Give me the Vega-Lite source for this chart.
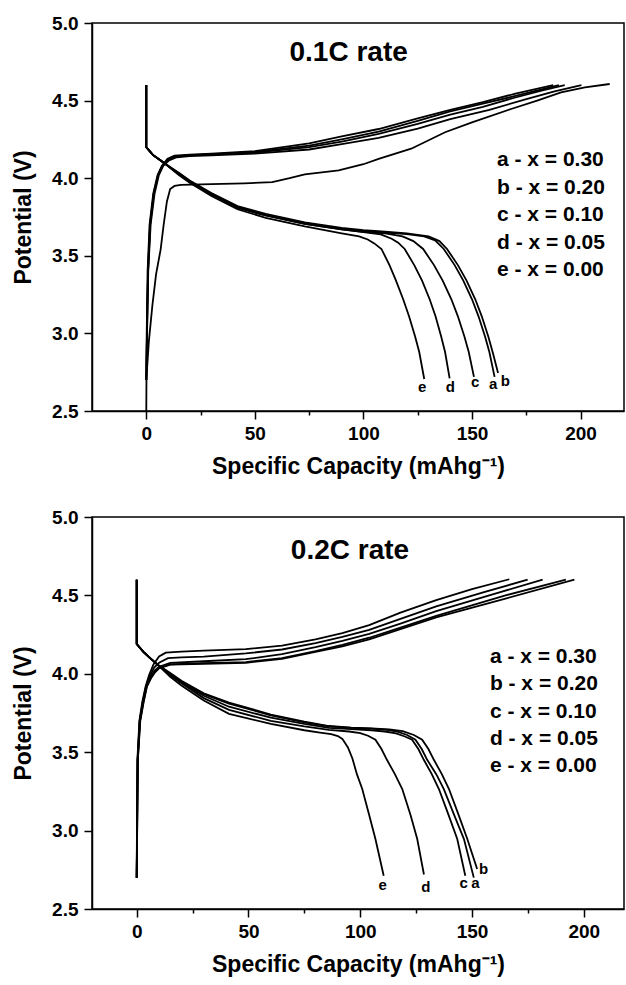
{
  "$schema": "https://vega.github.io/schema/vega-lite/v6.json",
  "padding": {"left": 11, "top": 13, "right": 0, "bottom": 0},
  "background": "white",
  "spacing": 106,
  "bounds": "flush",
  "config": {
    "font": "Liberation Sans",
    "view": {"stroke": "black", "strokeWidth": 1.5},
    "axis": {
      "grid": false,
      "domainColor": "black",
      "domainWidth": 1.5,
      "tickColor": "black",
      "tickWidth": 1.5,
      "labelColor": "black",
      "labelFont": "Liberation Sans",
      "labelFontWeight": "bold",
      "labelFontSize": 19,
      "titleColor": "black",
      "titleFont": "Liberation Sans",
      "titleFontWeight": "bold",
      "titleFontSize": 23
    },
    "axisX": {"labelPadding": 5, "titlePadding": 12},
    "axisY": {"labelPadding": 6, "titlePadding": 16}
  },
  "datasets": {
    "p1": [
      {"id":"a-dis","cap":0,"v":4.6},{"id":"a-dis","cap":0,"v":4.2},{"id":"a-dis","cap":3,"v":4.15},{"id":"a-dis","cap":6,"v":4.12},{"id":"a-dis","cap":9,"v":4.09},{"id":"a-dis","cap":15,"v":4.03},{"id":"a-dis","cap":20,"v":3.98},{"id":"a-dis","cap":30,"v":3.9},{"id":"a-dis","cap":42,"v":3.815},{"id":"a-dis","cap":55,"v":3.765},{"id":"a-dis","cap":73,"v":3.71},{"id":"a-dis","cap":90,"v":3.675},{"id":"a-dis","cap":100,"v":3.66},{"id":"a-dis","cap":110,"v":3.65},{"id":"a-dis","cap":120,"v":3.64},{"id":"a-dis","cap":128,"v":3.625},{"id":"a-dis","cap":133,"v":3.6},{"id":"a-dis","cap":137,"v":3.544},{"id":"a-dis","cap":142,"v":3.44},{"id":"a-dis","cap":146,"v":3.34},{"id":"a-dis","cap":150,"v":3.22},{"id":"a-dis","cap":153,"v":3.11},{"id":"a-dis","cap":156,"v":2.98},{"id":"a-dis","cap":158,"v":2.88},{"id":"a-dis","cap":160.4,"v":2.72},
      {"id":"b-dis","cap":0,"v":4.6},{"id":"b-dis","cap":0,"v":4.2},{"id":"b-dis","cap":3,"v":4.15},{"id":"b-dis","cap":6,"v":4.12},{"id":"b-dis","cap":9,"v":4.09},{"id":"b-dis","cap":15,"v":4.035},{"id":"b-dis","cap":20,"v":3.985},{"id":"b-dis","cap":30,"v":3.905},{"id":"b-dis","cap":42,"v":3.82},{"id":"b-dis","cap":55,"v":3.77},{"id":"b-dis","cap":73,"v":3.715},{"id":"b-dis","cap":90,"v":3.68},{"id":"b-dis","cap":100,"v":3.665},{"id":"b-dis","cap":110,"v":3.655},{"id":"b-dis","cap":120,"v":3.645},{"id":"b-dis","cap":130,"v":3.625},{"id":"b-dis","cap":135,"v":3.595},{"id":"b-dis","cap":138.5,"v":3.544},{"id":"b-dis","cap":143.5,"v":3.44},{"id":"b-dis","cap":147.5,"v":3.34},{"id":"b-dis","cap":151.5,"v":3.22},{"id":"b-dis","cap":154.5,"v":3.11},{"id":"b-dis","cap":157.5,"v":2.98},{"id":"b-dis","cap":159.5,"v":2.88},{"id":"b-dis","cap":162,"v":2.745},
      {"id":"c-dis","cap":0,"v":4.6},{"id":"c-dis","cap":0,"v":4.2},{"id":"c-dis","cap":3,"v":4.15},{"id":"c-dis","cap":6,"v":4.12},{"id":"c-dis","cap":9,"v":4.09},{"id":"c-dis","cap":15,"v":4.025},{"id":"c-dis","cap":20,"v":3.975},{"id":"c-dis","cap":30,"v":3.895},{"id":"c-dis","cap":42,"v":3.81},{"id":"c-dis","cap":55,"v":3.76},{"id":"c-dis","cap":73,"v":3.705},{"id":"c-dis","cap":90,"v":3.67},{"id":"c-dis","cap":100,"v":3.655},{"id":"c-dis","cap":110,"v":3.645},{"id":"c-dis","cap":118,"v":3.625},{"id":"c-dis","cap":123,"v":3.595},{"id":"c-dis","cap":127.5,"v":3.544},{"id":"c-dis","cap":132.5,"v":3.44},{"id":"c-dis","cap":136.5,"v":3.34},{"id":"c-dis","cap":140.5,"v":3.22},{"id":"c-dis","cap":143.5,"v":3.11},{"id":"c-dis","cap":146.5,"v":2.98},{"id":"c-dis","cap":148.5,"v":2.88},{"id":"c-dis","cap":150.9,"v":2.72},
      {"id":"d-dis","cap":0,"v":4.6},{"id":"d-dis","cap":0,"v":4.2},{"id":"d-dis","cap":3,"v":4.15},{"id":"d-dis","cap":6,"v":4.12},{"id":"d-dis","cap":9,"v":4.09},{"id":"d-dis","cap":15,"v":4.025},{"id":"d-dis","cap":20,"v":3.975},{"id":"d-dis","cap":30,"v":3.895},{"id":"d-dis","cap":42,"v":3.81},{"id":"d-dis","cap":55,"v":3.76},{"id":"d-dis","cap":73,"v":3.705},{"id":"d-dis","cap":90,"v":3.67},{"id":"d-dis","cap":100,"v":3.652},{"id":"d-dis","cap":108,"v":3.638},{"id":"d-dis","cap":113,"v":3.61},{"id":"d-dis","cap":116,"v":3.585},{"id":"d-dis","cap":119,"v":3.544},{"id":"d-dis","cap":123.4,"v":3.44},{"id":"d-dis","cap":127,"v":3.34},{"id":"d-dis","cap":130.5,"v":3.22},{"id":"d-dis","cap":133.2,"v":3.11},{"id":"d-dis","cap":135.8,"v":2.98},{"id":"d-dis","cap":137.6,"v":2.88},{"id":"d-dis","cap":139.7,"v":2.71},
      {"id":"e-dis","cap":0,"v":4.6},{"id":"e-dis","cap":0,"v":4.2},{"id":"e-dis","cap":3,"v":4.15},{"id":"e-dis","cap":6,"v":4.12},{"id":"e-dis","cap":9,"v":4.09},{"id":"e-dis","cap":15,"v":4.02},{"id":"e-dis","cap":20,"v":3.97},{"id":"e-dis","cap":30,"v":3.885},{"id":"e-dis","cap":42,"v":3.8},{"id":"e-dis","cap":55,"v":3.745},{"id":"e-dis","cap":73,"v":3.69},{"id":"e-dis","cap":90,"v":3.645},{"id":"e-dis","cap":98,"v":3.625},{"id":"e-dis","cap":102,"v":3.605},{"id":"e-dis","cap":105,"v":3.58},{"id":"e-dis","cap":108.3,"v":3.544},{"id":"e-dis","cap":112,"v":3.44},{"id":"e-dis","cap":115,"v":3.34},{"id":"e-dis","cap":118.3,"v":3.22},{"id":"e-dis","cap":121,"v":3.11},{"id":"e-dis","cap":123.8,"v":2.98},{"id":"e-dis","cap":125.7,"v":2.88},{"id":"e-dis","cap":128,"v":2.706},
      {"id":"a-ch","cap":0,"v":2.7},{"id":"a-ch","cap":0.3,"v":3.0},{"id":"a-ch","cap":0.8,"v":3.4},{"id":"a-ch","cap":1.8,"v":3.7},{"id":"a-ch","cap":3.5,"v":3.9},{"id":"a-ch","cap":5.5,"v":4.02},{"id":"a-ch","cap":7.5,"v":4.08},{"id":"a-ch","cap":10,"v":4.12},{"id":"a-ch","cap":13,"v":4.14},{"id":"a-ch","cap":20,"v":4.148},{"id":"a-ch","cap":30,"v":4.155},{"id":"a-ch","cap":50,"v":4.165},{"id":"a-ch","cap":75,"v":4.2},{"id":"a-ch","cap":90,"v":4.235},{"id":"a-ch","cap":107,"v":4.285},{"id":"a-ch","cap":125,"v":4.35},{"id":"a-ch","cap":140,"v":4.41},{"id":"a-ch","cap":155,"v":4.46},{"id":"a-ch","cap":170,"v":4.52},{"id":"a-ch","cap":182,"v":4.565},{"id":"a-ch","cap":192.7,"v":4.6},
      {"id":"b-ch","cap":0,"v":2.7},{"id":"b-ch","cap":0.35,"v":3.0},{"id":"b-ch","cap":0.9,"v":3.4},{"id":"b-ch","cap":2,"v":3.7},{"id":"b-ch","cap":3.8,"v":3.9},{"id":"b-ch","cap":5.8,"v":4.02},{"id":"b-ch","cap":7.8,"v":4.08},{"id":"b-ch","cap":10.5,"v":4.115},{"id":"b-ch","cap":14,"v":4.135},{"id":"b-ch","cap":20,"v":4.142},{"id":"b-ch","cap":30,"v":4.148},{"id":"b-ch","cap":50,"v":4.158},{"id":"b-ch","cap":75,"v":4.185},{"id":"b-ch","cap":90,"v":4.22},{"id":"b-ch","cap":107,"v":4.26},{"id":"b-ch","cap":125,"v":4.32},{"id":"b-ch","cap":140,"v":4.38},{"id":"b-ch","cap":158,"v":4.44},{"id":"b-ch","cap":175,"v":4.51},{"id":"b-ch","cap":188,"v":4.56},{"id":"b-ch","cap":200.4,"v":4.6},
      {"id":"c-ch","cap":0,"v":2.5},{"id":"c-ch","cap":0.2,"v":3.0},{"id":"c-ch","cap":0.6,"v":3.4},{"id":"c-ch","cap":1.5,"v":3.7},{"id":"c-ch","cap":3.2,"v":3.9},{"id":"c-ch","cap":5.2,"v":4.02},{"id":"c-ch","cap":7.2,"v":4.08},{"id":"c-ch","cap":9.8,"v":4.125},{"id":"c-ch","cap":13,"v":4.145},{"id":"c-ch","cap":20,"v":4.152},{"id":"c-ch","cap":30,"v":4.158},{"id":"c-ch","cap":50,"v":4.175},{"id":"c-ch","cap":75,"v":4.225},{"id":"c-ch","cap":90,"v":4.27},{"id":"c-ch","cap":107,"v":4.317},{"id":"c-ch","cap":125,"v":4.385},{"id":"c-ch","cap":140,"v":4.44},{"id":"c-ch","cap":155,"v":4.49},{"id":"c-ch","cap":170,"v":4.545},{"id":"c-ch","cap":187.4,"v":4.6},
      {"id":"d-ch","cap":0,"v":2.7},{"id":"d-ch","cap":0.3,"v":3.0},{"id":"d-ch","cap":0.8,"v":3.4},{"id":"d-ch","cap":1.7,"v":3.7},{"id":"d-ch","cap":3.4,"v":3.9},{"id":"d-ch","cap":5.4,"v":4.02},{"id":"d-ch","cap":7.4,"v":4.08},{"id":"d-ch","cap":10,"v":4.12},{"id":"d-ch","cap":13,"v":4.14},{"id":"d-ch","cap":20,"v":4.147},{"id":"d-ch","cap":30,"v":4.153},{"id":"d-ch","cap":50,"v":4.17},{"id":"d-ch","cap":75,"v":4.21},{"id":"d-ch","cap":90,"v":4.25},{"id":"d-ch","cap":107,"v":4.3},{"id":"d-ch","cap":125,"v":4.37},{"id":"d-ch","cap":140,"v":4.43},{"id":"d-ch","cap":155,"v":4.48},{"id":"d-ch","cap":170,"v":4.53},{"id":"d-ch","cap":190,"v":4.6},
      {"id":"e-ch","cap":0,"v":2.7},{"id":"e-ch","cap":1.2,"v":2.95},{"id":"e-ch","cap":2.8,"v":3.18},{"id":"e-ch","cap":4.5,"v":3.38},{"id":"e-ch","cap":6.6,"v":3.54},{"id":"e-ch","cap":8,"v":3.7},{"id":"e-ch","cap":9.5,"v":3.85},{"id":"e-ch","cap":11,"v":3.93},{"id":"e-ch","cap":13,"v":3.95},{"id":"e-ch","cap":16,"v":3.957},{"id":"e-ch","cap":30,"v":3.962},{"id":"e-ch","cap":45,"v":3.967},{"id":"e-ch","cap":58,"v":3.975},{"id":"e-ch","cap":66,"v":4.0},{"id":"e-ch","cap":73,"v":4.025},{"id":"e-ch","cap":88.6,"v":4.05},{"id":"e-ch","cap":100,"v":4.09},{"id":"e-ch","cap":107,"v":4.124},{"id":"e-ch","cap":122,"v":4.19},{"id":"e-ch","cap":137.6,"v":4.296},{"id":"e-ch","cap":150,"v":4.36},{"id":"e-ch","cap":168,"v":4.446},{"id":"e-ch","cap":180,"v":4.5},{"id":"e-ch","cap":191,"v":4.553},{"id":"e-ch","cap":202,"v":4.585},{"id":"e-ch","cap":213.4,"v":4.607}
    ],
    "p2": [
      {"id":"a-dis","cap":0,"v":4.6},{"id":"a-dis","cap":0,"v":4.19},{"id":"a-dis","cap":3,"v":4.14},{"id":"a-dis","cap":6,"v":4.1},{"id":"a-dis","cap":9.2,"v":4.06},{"id":"a-dis","cap":15,"v":4.0},{"id":"a-dis","cap":20,"v":3.95},{"id":"a-dis","cap":30,"v":3.87},{"id":"a-dis","cap":41.3,"v":3.81},{"id":"a-dis","cap":60,"v":3.735},{"id":"a-dis","cap":75,"v":3.69},{"id":"a-dis","cap":86,"v":3.665},{"id":"a-dis","cap":96,"v":3.655},{"id":"a-dis","cap":105,"v":3.65},{"id":"a-dis","cap":112,"v":3.642},{"id":"a-dis","cap":117,"v":3.63},{"id":"a-dis","cap":121,"v":3.61},{"id":"a-dis","cap":124.7,"v":3.58},{"id":"a-dis","cap":127.5,"v":3.52},{"id":"a-dis","cap":130,"v":3.45},{"id":"a-dis","cap":134,"v":3.36},{"id":"a-dis","cap":137.4,"v":3.265},{"id":"a-dis","cap":142,"v":3.1},{"id":"a-dis","cap":146.4,"v":2.946},{"id":"a-dis","cap":150.8,"v":2.7},
      {"id":"b-dis","cap":0,"v":4.6},{"id":"b-dis","cap":0,"v":4.19},{"id":"b-dis","cap":3,"v":4.14},{"id":"b-dis","cap":6,"v":4.1},{"id":"b-dis","cap":9.2,"v":4.06},{"id":"b-dis","cap":15,"v":4.005},{"id":"b-dis","cap":20,"v":3.955},{"id":"b-dis","cap":30,"v":3.875},{"id":"b-dis","cap":41.3,"v":3.817},{"id":"b-dis","cap":60,"v":3.74},{"id":"b-dis","cap":75,"v":3.695},{"id":"b-dis","cap":86,"v":3.667},{"id":"b-dis","cap":96,"v":3.657},{"id":"b-dis","cap":105,"v":3.652},{"id":"b-dis","cap":113,"v":3.645},{"id":"b-dis","cap":119,"v":3.635},{"id":"b-dis","cap":124,"v":3.61},{"id":"b-dis","cap":127.7,"v":3.58},{"id":"b-dis","cap":130.5,"v":3.52},{"id":"b-dis","cap":133,"v":3.45},{"id":"b-dis","cap":136.5,"v":3.36},{"id":"b-dis","cap":139.7,"v":3.265},{"id":"b-dis","cap":144,"v":3.1},{"id":"b-dis","cap":147.9,"v":2.946},{"id":"b-dis","cap":152.3,"v":2.755},
      {"id":"c-dis","cap":0,"v":4.6},{"id":"c-dis","cap":0,"v":4.19},{"id":"c-dis","cap":3,"v":4.14},{"id":"c-dis","cap":6,"v":4.1},{"id":"c-dis","cap":9.2,"v":4.06},{"id":"c-dis","cap":15,"v":3.995},{"id":"c-dis","cap":20,"v":3.945},{"id":"c-dis","cap":30,"v":3.86},{"id":"c-dis","cap":41.3,"v":3.79},{"id":"c-dis","cap":60,"v":3.72},{"id":"c-dis","cap":75,"v":3.68},{"id":"c-dis","cap":86,"v":3.655},{"id":"c-dis","cap":96,"v":3.647},{"id":"c-dis","cap":105,"v":3.64},{"id":"c-dis","cap":111,"v":3.632},{"id":"c-dis","cap":116,"v":3.62},{"id":"c-dis","cap":120,"v":3.6},{"id":"c-dis","cap":123.2,"v":3.58},{"id":"c-dis","cap":126,"v":3.52},{"id":"c-dis","cap":128.5,"v":3.45},{"id":"c-dis","cap":132,"v":3.36},{"id":"c-dis","cap":135.2,"v":3.265},{"id":"c-dis","cap":139.5,"v":3.1},{"id":"c-dis","cap":143.4,"v":2.946},{"id":"c-dis","cap":147,"v":2.712},
      {"id":"d-dis","cap":0,"v":4.6},{"id":"d-dis","cap":0,"v":4.19},{"id":"d-dis","cap":3,"v":4.14},{"id":"d-dis","cap":6,"v":4.1},{"id":"d-dis","cap":9.2,"v":4.06},{"id":"d-dis","cap":15,"v":3.99},{"id":"d-dis","cap":20,"v":3.94},{"id":"d-dis","cap":30,"v":3.845},{"id":"d-dis","cap":41.3,"v":3.77},{"id":"d-dis","cap":60,"v":3.70},{"id":"d-dis","cap":75,"v":3.665},{"id":"d-dis","cap":86,"v":3.643},{"id":"d-dis","cap":95,"v":3.632},{"id":"d-dis","cap":100,"v":3.622},{"id":"d-dis","cap":103.5,"v":3.605},{"id":"d-dis","cap":106.8,"v":3.58},{"id":"d-dis","cap":109.5,"v":3.52},{"id":"d-dis","cap":112,"v":3.45},{"id":"d-dis","cap":115.5,"v":3.36},{"id":"d-dis","cap":118.8,"v":3.265},{"id":"d-dis","cap":122.5,"v":3.1},{"id":"d-dis","cap":125.5,"v":2.946},{"id":"d-dis","cap":128.5,"v":2.72},
      {"id":"e-dis","cap":0,"v":4.6},{"id":"e-dis","cap":0,"v":4.19},{"id":"e-dis","cap":3,"v":4.14},{"id":"e-dis","cap":6,"v":4.1},{"id":"e-dis","cap":9.2,"v":4.06},{"id":"e-dis","cap":15,"v":3.98},{"id":"e-dis","cap":20,"v":3.925},{"id":"e-dis","cap":30,"v":3.83},{"id":"e-dis","cap":41.3,"v":3.745},{"id":"e-dis","cap":60,"v":3.68},{"id":"e-dis","cap":75,"v":3.64},{"id":"e-dis","cap":82,"v":3.625},{"id":"e-dis","cap":87,"v":3.615},{"id":"e-dis","cap":90,"v":3.603},{"id":"e-dis","cap":92,"v":3.585},{"id":"e-dis","cap":94.5,"v":3.53},{"id":"e-dis","cap":96.5,"v":3.46},{"id":"e-dis","cap":98.5,"v":3.36},{"id":"e-dis","cap":100.9,"v":3.265},{"id":"e-dis","cap":104,"v":3.1},{"id":"e-dis","cap":106.8,"v":2.946},{"id":"e-dis","cap":110.5,"v":2.712},
      {"id":"a-ch","cap":0,"v":2.7},{"id":"a-ch","cap":0.2,"v":3.0},{"id":"a-ch","cap":0.5,"v":3.45},{"id":"a-ch","cap":1.5,"v":3.7},{"id":"a-ch","cap":3,"v":3.82},{"id":"a-ch","cap":4.5,"v":3.92},{"id":"a-ch","cap":6.2,"v":3.97},{"id":"a-ch","cap":8,"v":4.01},{"id":"a-ch","cap":10,"v":4.04},{"id":"a-ch","cap":15,"v":4.06},{"id":"a-ch","cap":30,"v":4.068},{"id":"a-ch","cap":48.8,"v":4.075},{"id":"a-ch","cap":65,"v":4.1},{"id":"a-ch","cap":80,"v":4.145},{"id":"a-ch","cap":92,"v":4.185},{"id":"a-ch","cap":104,"v":4.23},{"id":"a-ch","cap":118,"v":4.295},{"id":"a-ch","cap":134,"v":4.37},{"id":"a-ch","cap":165,"v":4.5},{"id":"a-ch","cap":192,"v":4.6},
      {"id":"b-ch","cap":0,"v":2.7},{"id":"b-ch","cap":0.2,"v":3.0},{"id":"b-ch","cap":0.5,"v":3.45},{"id":"b-ch","cap":1.6,"v":3.7},{"id":"b-ch","cap":3.1,"v":3.82},{"id":"b-ch","cap":4.6,"v":3.92},{"id":"b-ch","cap":6.3,"v":3.97},{"id":"b-ch","cap":8.2,"v":4.01},{"id":"b-ch","cap":10,"v":4.035},{"id":"b-ch","cap":15,"v":4.058},{"id":"b-ch","cap":30,"v":4.064},{"id":"b-ch","cap":48.8,"v":4.07},{"id":"b-ch","cap":65,"v":4.095},{"id":"b-ch","cap":80,"v":4.14},{"id":"b-ch","cap":92,"v":4.175},{"id":"b-ch","cap":104,"v":4.22},{"id":"b-ch","cap":118,"v":4.285},{"id":"b-ch","cap":134,"v":4.36},{"id":"b-ch","cap":165,"v":4.48},{"id":"b-ch","cap":195.8,"v":4.6},
      {"id":"c-ch","cap":0,"v":2.7},{"id":"c-ch","cap":0.1,"v":3.0},{"id":"c-ch","cap":0.3,"v":3.45},{"id":"c-ch","cap":1.2,"v":3.7},{"id":"c-ch","cap":2.5,"v":3.82},{"id":"c-ch","cap":4,"v":3.92},{"id":"c-ch","cap":5.5,"v":3.99},{"id":"c-ch","cap":7.5,"v":4.06},{"id":"c-ch","cap":10,"v":4.11},{"id":"c-ch","cap":13,"v":4.135},{"id":"c-ch","cap":20,"v":4.142},{"id":"c-ch","cap":30,"v":4.148},{"id":"c-ch","cap":48.8,"v":4.157},{"id":"c-ch","cap":65,"v":4.18},{"id":"c-ch","cap":80,"v":4.22},{"id":"c-ch","cap":92,"v":4.26},{"id":"c-ch","cap":104,"v":4.31},{"id":"c-ch","cap":118,"v":4.39},{"id":"c-ch","cap":134,"v":4.47},{"id":"c-ch","cap":150,"v":4.54},{"id":"c-ch","cap":166.7,"v":4.603},
      {"id":"d-ch","cap":0,"v":2.7},{"id":"d-ch","cap":0.15,"v":3.0},{"id":"d-ch","cap":0.4,"v":3.45},{"id":"d-ch","cap":1.3,"v":3.7},{"id":"d-ch","cap":2.7,"v":3.82},{"id":"d-ch","cap":4.2,"v":3.92},{"id":"d-ch","cap":5.8,"v":3.98},{"id":"d-ch","cap":7.8,"v":4.04},{"id":"d-ch","cap":10,"v":4.07},{"id":"d-ch","cap":14,"v":4.1},{"id":"d-ch","cap":20,"v":4.105},{"id":"d-ch","cap":30,"v":4.11},{"id":"d-ch","cap":48.8,"v":4.13},{"id":"d-ch","cap":65,"v":4.155},{"id":"d-ch","cap":80,"v":4.195},{"id":"d-ch","cap":92,"v":4.235},{"id":"d-ch","cap":104,"v":4.28},{"id":"d-ch","cap":118,"v":4.35},{"id":"d-ch","cap":134,"v":4.43},{"id":"d-ch","cap":155,"v":4.52},{"id":"d-ch","cap":174.9,"v":4.6},
      {"id":"e-ch","cap":0,"v":2.7},{"id":"e-ch","cap":0.15,"v":3.0},{"id":"e-ch","cap":0.4,"v":3.45},{"id":"e-ch","cap":1.4,"v":3.7},{"id":"e-ch","cap":2.8,"v":3.82},{"id":"e-ch","cap":4.3,"v":3.92},{"id":"e-ch","cap":6,"v":3.97},{"id":"e-ch","cap":8,"v":4.02},{"id":"e-ch","cap":10,"v":4.045},{"id":"e-ch","cap":15,"v":4.07},{"id":"e-ch","cap":30,"v":4.08},{"id":"e-ch","cap":48.8,"v":4.093},{"id":"e-ch","cap":65,"v":4.125},{"id":"e-ch","cap":80,"v":4.17},{"id":"e-ch","cap":92,"v":4.21},{"id":"e-ch","cap":104,"v":4.255},{"id":"e-ch","cap":118,"v":4.32},{"id":"e-ch","cap":134,"v":4.4},{"id":"e-ch","cap":160,"v":4.51},{"id":"e-ch","cap":181.6,"v":4.6}
    ],
    "t1": [
      {"kind":"title","cap":93.2,"v":4.755,"t":"0.1C rate"},
      {"kind":"note","cap":161.5,"v":4.079,"t":"a - x = 0.30"},
      {"kind":"note","cap":161.5,"v":3.901,"t":"b - x = 0.20"},
      {"kind":"note","cap":161.5,"v":3.724,"t":"c - x = 0.10"},
      {"kind":"note","cap":161.5,"v":3.547,"t":"d - x = 0.05"},
      {"kind":"note","cap":161.5,"v":3.37,"t":"e - x = 0.00"},
      {"kind":"label","cap":127,"v":2.621,"t":"e"},
      {"kind":"label","cap":140,"v":2.621,"t":"d"},
      {"kind":"label","cap":151.5,"v":2.653,"t":"c"},
      {"kind":"label","cap":159.7,"v":2.642,"t":"a"},
      {"kind":"label","cap":165.3,"v":2.661,"t":"b"}
    ],
    "t2": [
      {"kind":"title","cap":95.4,"v":4.73,"t":"0.2C rate"},
      {"kind":"note","cap":158,"v":4.072,"t":"a - x = 0.30"},
      {"kind":"note","cap":158,"v":3.897,"t":"b - x = 0.20"},
      {"kind":"note","cap":158,"v":3.721,"t":"c - x = 0.10"},
      {"kind":"note","cap":158,"v":3.546,"t":"d - x = 0.05"},
      {"kind":"note","cap":158,"v":3.371,"t":"e - x = 0.00"},
      {"kind":"label","cap":110,"v":2.623,"t":"e"},
      {"kind":"label","cap":129.4,"v":2.61,"t":"d"},
      {"kind":"label","cap":146.3,"v":2.632,"t":"c"},
      {"kind":"label","cap":151.5,"v":2.632,"t":"a"},
      {"kind":"label","cap":155.2,"v":2.723,"t":"b"}
    ]
  },
  "vconcat": [
    {
      "width": 532,
      "height": 388,
      "layer": [
        {
          "data": {"name": "p1"},
          "mark": {"type": "line", "color": "black", "strokeWidth": 1.8},
          "encoding": {
            "x": {"field": "cap", "type": "quantitative", "scale": {"domain": [-25, 220], "nice": false, "zero": false},
              "axis": {"title": "Specific Capacity (mAhg⁻¹)", "values": [0,25,50,75,100,125,150,175,200], "format": "d",
                "labelExpr": "datum.value % 50 === 0 ? datum.label : ''",
                "tickSize": {"condition": {"test": "datum.value % 50 === 0", "value": 8}, "value": 4}}},
            "y": {"field": "v", "type": "quantitative", "scale": {"domain": [2.5, 5.0], "nice": false, "zero": false},
              "axis": {"title": "Potential (V)", "values": [2.5,2.75,3.0,3.25,3.5,3.75,4.0,4.25,4.5,4.75,5.0], "format": ".1f",
                "labelExpr": "(datum.value * 4) % 2 === 0 ? datum.label : ''",
                "tickSize": {"condition": {"test": "(datum.value * 4) % 2 === 0", "value": 8}, "value": 4}}},
            "detail": {"field": "id"},
            "order": {"field": "v"}
          }
        },
        {
          "data": {"name": "t1"},
          "transform": [{"filter": "datum.kind === 'title'"}],
          "mark": {"type": "text", "font": "Liberation Sans", "fontWeight": "bold", "fontSize": 28, "align": "center", "baseline": "alphabetic", "color": "black"},
          "encoding": {"x": {"field": "cap", "type": "quantitative"}, "y": {"field": "v", "type": "quantitative"}, "text": {"field": "t"}}
        },
        {
          "data": {"name": "t1"},
          "transform": [{"filter": "datum.kind === 'note'"}],
          "mark": {"type": "text", "font": "Liberation Sans", "fontWeight": "bold", "fontSize": 21, "align": "left", "baseline": "alphabetic", "color": "black"},
          "encoding": {"x": {"field": "cap", "type": "quantitative"}, "y": {"field": "v", "type": "quantitative"}, "text": {"field": "t"}}
        },
        {
          "data": {"name": "t1"},
          "transform": [{"filter": "datum.kind === 'label'"}],
          "mark": {"type": "text", "font": "Liberation Sans", "fontWeight": "bold", "fontSize": 15, "align": "center", "baseline": "alphabetic", "color": "black"},
          "encoding": {"x": {"field": "cap", "type": "quantitative"}, "y": {"field": "v", "type": "quantitative"}, "text": {"field": "t"}}
        }
      ]
    },
    {
      "width": 532,
      "height": 392,
      "layer": [
        {
          "data": {"name": "p2"},
          "mark": {"type": "line", "color": "black", "strokeWidth": 1.8},
          "encoding": {
            "x": {"field": "cap", "type": "quantitative", "scale": {"domain": [-20, 218], "nice": false, "zero": false},
              "axis": {"title": "Specific Capacity (mAhg⁻¹)", "values": [0,25,50,75,100,125,150,175,200], "format": "d",
                "labelExpr": "datum.value % 50 === 0 ? datum.label : ''",
                "tickSize": {"condition": {"test": "datum.value % 50 === 0", "value": 8}, "value": 4}}},
            "y": {"field": "v", "type": "quantitative", "scale": {"domain": [2.5, 5.0], "nice": false, "zero": false},
              "axis": {"title": "Potential (V)", "values": [2.5,2.75,3.0,3.25,3.5,3.75,4.0,4.25,4.5,4.75,5.0], "format": ".1f",
                "labelExpr": "(datum.value * 4) % 2 === 0 ? datum.label : ''",
                "tickSize": {"condition": {"test": "(datum.value * 4) % 2 === 0", "value": 8}, "value": 4}}},
            "detail": {"field": "id"},
            "order": {"field": "v"}
          }
        },
        {
          "data": {"name": "t2"},
          "transform": [{"filter": "datum.kind === 'title'"}],
          "mark": {"type": "text", "font": "Liberation Sans", "fontWeight": "bold", "fontSize": 28, "align": "center", "baseline": "alphabetic", "color": "black"},
          "encoding": {"x": {"field": "cap", "type": "quantitative"}, "y": {"field": "v", "type": "quantitative"}, "text": {"field": "t"}}
        },
        {
          "data": {"name": "t2"},
          "transform": [{"filter": "datum.kind === 'note'"}],
          "mark": {"type": "text", "font": "Liberation Sans", "fontWeight": "bold", "fontSize": 21, "align": "left", "baseline": "alphabetic", "color": "black"},
          "encoding": {"x": {"field": "cap", "type": "quantitative"}, "y": {"field": "v", "type": "quantitative"}, "text": {"field": "t"}}
        },
        {
          "data": {"name": "t2"},
          "transform": [{"filter": "datum.kind === 'label'"}],
          "mark": {"type": "text", "font": "Liberation Sans", "fontWeight": "bold", "fontSize": 15, "align": "center", "baseline": "alphabetic", "color": "black"},
          "encoding": {"x": {"field": "cap", "type": "quantitative"}, "y": {"field": "v", "type": "quantitative"}, "text": {"field": "t"}}
        }
      ]
    }
  ]
}
